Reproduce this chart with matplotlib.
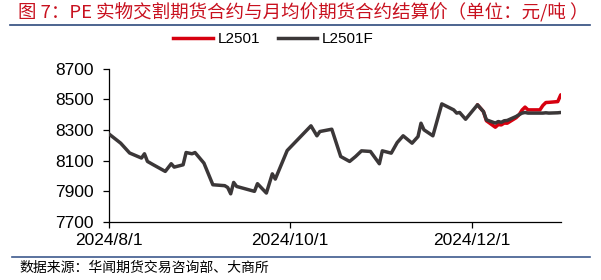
import numpy as np
import pandas as pd
import matplotlib
matplotlib.use('Agg')
import matplotlib.pyplot as plt
import matplotlib.dates as mdates
from matplotlib.lines import Line2D

plt.rcParams['font.family'] = ['Liberation Sans', 'Noto Sans CJK SC', 'DejaVu Sans']

# L2501F (gray) - settlement price
gray_dates = ['2024-08-01', '2024-08-05', '2024-08-08', '2024-08-12', '2024-08-13',
              '2024-08-14', '2024-08-16', '2024-08-20', '2024-08-22', '2024-08-23',
              '2024-08-26', '2024-08-27', '2024-08-29', '2024-08-30', '2024-09-02',
              '2024-09-05', '2024-09-09', '2024-09-10', '2024-09-11', '2024-09-12',
              '2024-09-13', '2024-09-19', '2024-09-20', '2024-09-23', '2024-09-25',
              '2024-09-26', '2024-09-30', '2024-10-08', '2024-10-10', '2024-10-11',
              '2024-10-15', '2024-10-18', '2024-10-21', '2024-10-23', '2024-10-25',
              '2024-10-28', '2024-10-31', '2024-11-01', '2024-11-04', '2024-11-06',
              '2024-11-08', '2024-11-11', '2024-11-13', '2024-11-14', '2024-11-15',
              '2024-11-18', '2024-11-21', '2024-11-25', '2024-11-26', '2024-11-27',
              '2024-11-29', '2024-12-03', '2024-12-05', '2024-12-06', '2024-12-09',
              '2024-12-10', '2024-12-11', '2024-12-12', '2024-12-13', '2024-12-16',
              '2024-12-17', '2024-12-18', '2024-12-19', '2024-12-20', '2024-12-23',
              '2024-12-24', '2024-12-25', '2024-12-26', '2024-12-27', '2024-12-30',
              '2024-12-31']
gray_vals = [8275, 8214, 8150, 8117, 8145,
             8095, 8073, 8030, 8080, 8058,
             8073, 8153, 8145, 8153, 8084,
             7943, 7937, 7925, 7884, 7958,
             7932, 7900, 7950, 7889, 8014,
             7980, 8166, 8327, 8262, 8290,
             8305, 8127, 8095, 8127, 8164,
             8160, 8080, 8164, 8149, 8218,
             8262, 8214, 8257, 8344, 8301,
             8262, 8470, 8431, 8410, 8414,
             8370, 8464, 8420, 8366, 8345,
             8355, 8350, 8360, 8362, 8388,
             8400, 8410, 8414, 8410, 8410,
             8410, 8410, 8412, 8410, 8412,
             8414]

# L2501 (red)
red_dates = ['2024-12-03', '2024-12-05', '2024-12-06', '2024-12-09', '2024-12-10',
             '2024-12-11', '2024-12-12', '2024-12-13', '2024-12-16', '2024-12-17',
             '2024-12-18', '2024-12-19', '2024-12-20', '2024-12-23', '2024-12-24',
             '2024-12-25', '2024-12-26', '2024-12-27', '2024-12-30', '2024-12-31']
red_vals = [8464, 8420, 8360, 8318, 8335,
            8333, 8345, 8344, 8380, 8399,
            8430, 8449, 8431, 8431, 8431,
            8460, 8479, 8480, 8485, 8529]

x_ticks = ['2024-08-01', '2024-10-01', '2024-12-01']
y_ticks = [7700, 7900, 8100, 8300, 8500, 8700]

gray_d = pd.to_datetime(gray_dates)
red_d = pd.to_datetime(red_dates)

red_c = '#D7000F'
gray_c = '#3B3738'

fig = plt.figure(figsize=(6.01, 2.8), dpi=100)
ax = fig.add_axes([0.181, 0.207, 0.752, 0.548])

ax.plot(red_d, red_vals, color=red_c, lw=2.5, zorder=2, solid_capstyle='round')
ax.plot(gray_d, gray_vals, color=gray_c, lw=2.5, zorder=3, solid_capstyle='round')

ax.set_ylim(7700, 8700)
ax.set_yticks(y_ticks)
ax.set_xlim(pd.Timestamp('2024-08-01'), pd.Timestamp('2024-12-31'))
ticks = pd.to_datetime(x_ticks)
ax.set_xticks(ticks)
ax.set_xticklabels([f'{t.year}/{t.month}/{t.day}' for t in ticks])

for s in ['top', 'right']:
    ax.spines[s].set_visible(False)
for s in ['left', 'bottom']:
    ax.spines[s].set_linewidth(0.9)
ax.tick_params(axis='both', direction='out', length=4, width=0.9, labelsize=12.5, colors='black')
ax.tick_params(axis='x', pad=4)
ax.tick_params(axis='y', pad=7)

# legend
handles = [Line2D([], [], color=red_c, lw=2.5), Line2D([], [], color=gray_c, lw=2.5)]
fig.legend(handles, ['L2501', 'L2501F'], loc='center', bbox_to_anchor=(0.455, 0.86),
           ncol=2, frameon=False, fontsize=11, handlelength=2.6, handletextpad=0.3,
           columnspacing=1.15)

# title and source
fig.text(0.03, 0.955, '图 7：PE 实物交割期货合约与月均价期货合约结算价（单位：元/吨 ）',
         color='#C8101E', fontsize=13.3, va='center', ha='left',
         family=['Noto Sans CJK SC', 'DejaVu Sans'])
fig.add_artist(Line2D([0.017, 0.982], [0.91, 0.91], color='#2E4A7D', lw=1.2))
fig.add_artist(Line2D([0.02, 0.982], [0.083, 0.083], color='#3E5A8E', lw=1.2))
fig.text(0.033, 0.042, '数据来源：华闻期货交易咨询部、大商所', color='black', fontsize=10,
         va='center', ha='left', family=['Noto Sans CJK SC', 'DejaVu Sans'])

fig.savefig('out.png', dpi=100)
